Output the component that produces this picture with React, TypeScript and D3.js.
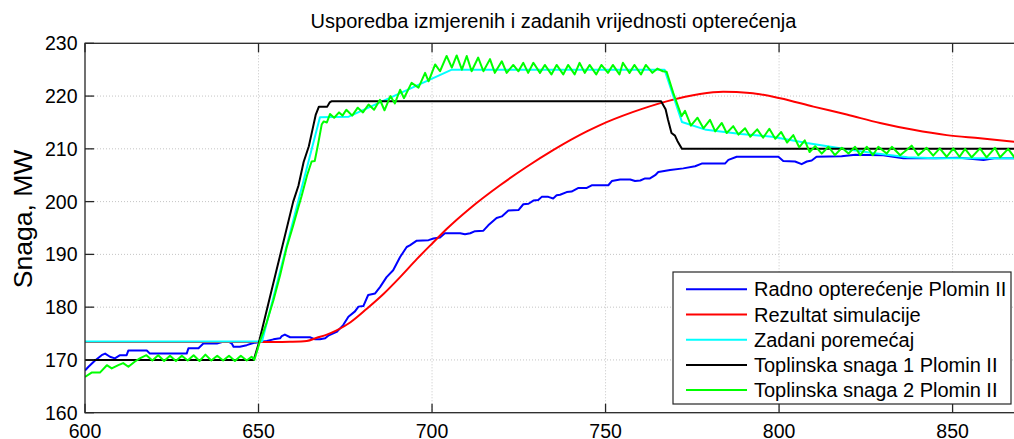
import * as d3 from "d3";

const radnoOpterecenje: [number, number][] = [
  [600, 168.0], [601, 168.7], [602.9, 169.9], [604.8, 170.9], [605.8, 171.2], [607.2, 170.6],
  [608.6, 170.3], [610.1, 170.9], [612, 170.9], [612.5, 171.8], [617.8, 171.8], [618.7, 171.2],
  [629.3, 171.2], [629.8, 172.2], [632.7, 172.2], [634.1, 173.1], [638, 173.1], [639.5, 173.4],
  [641.5, 173.4], [642.3, 173.1], [642.8, 172.5], [644.6, 172.5], [646.6, 172.8], [648.5, 173.2],
  [650.4, 173.4], [652.4, 173.6], [654.3, 173.9], [656.2, 174.1], [656.7, 174.5], [657.6, 174.8],
  [659.1, 174.3], [664.8, 174.3], [666.3, 173.9], [667.7, 173.9], [669.2, 174.1], [670.1, 174.6],
  [672.5, 175.3], [674.4, 176.6], [675.9, 178.2], [677.8, 179.2], [678.8, 180.1], [680.2, 180.2],
  [681.6, 182.3], [683.6, 182.6], [685, 183.8], [686.9, 185.7], [688.8, 187.0], [690.8, 189.5],
  [692.7, 191.4], [693.6, 191.7], [695.6, 192.6], [699, 192.7], [700.4, 193.0], [702.3, 193.2],
  [703.7, 194.0], [708.1, 194.0], [709.5, 193.8], [711, 194.0], [712.4, 194.4], [714.8, 194.5],
  [716.2, 195.5], [718.6, 196.9], [720.1, 197.2], [722, 198.3], [724.9, 198.4], [726.3, 199.5],
  [727.8, 199.6], [729.2, 200.2], [730.6, 200.3], [731.6, 200.9], [733.5, 200.9], [734.9, 200.6],
  [735.9, 201.2], [736.9, 201.3], [738.8, 201.8], [740.2, 201.9], [742.2, 202.6], [744.6, 202.6],
  [746, 203.1], [750.8, 203.1], [751.8, 203.9], [754.2, 204.2], [757.1, 204.2], [758.5, 203.9],
  [760, 204.0], [761.4, 204.4], [762.8, 204.4], [764.3, 205.0], [765.2, 205.6], [768.6, 206.0],
  [772.4, 206.3], [775.8, 206.7], [777.7, 207.2], [784.4, 207.2], [785.4, 207.9], [787.8, 208.5],
  [799.8, 208.5], [801.2, 207.7], [804.6, 207.6], [806.5, 207.1], [808, 207.6], [809.4, 207.8],
  [810.8, 208.5], [818, 208.6], [822, 208.9], [830, 208.8], [835.8, 208.2], [845, 208.2],
  [852, 208.3], [858.9, 207.9], [862, 208.2], [870, 208.2],
];

const rezultatSimulacije: [number, number][] = [
  [600, 173.4], [655, 173.4], [659, 173.45], [663.9, 173.6], [666.8, 174.2], [669.7, 174.8],
  [672.5, 175.6], [676.4, 177.1], [681.2, 179.7], [686, 182.5], [690.8, 185.7], [695.6, 189.1],
  [700.4, 192.3], [704.2, 194.8], [710.9, 198.7], [719.6, 203.1], [727.3, 206.6], [735, 209.8],
  [744.6, 213.3], [748.4, 214.5], [758, 217.0], [767.6, 219.0], [777.2, 220.4], [783.9, 220.8],
  [791.6, 220.6], [800.3, 219.6], [809.9, 218], [819.5, 216.5], [829.1, 214.9], [838.7, 213.6],
  [848.3, 212.6], [857.9, 212], [870, 211.2],
];

const zadaniPoremecaj: [number, number][] = [
  [600, 173.5], [651, 173.5], [667.7, 216.0], [676, 216.1], [705.7, 225], [767, 225],
  [772, 215.1], [779, 213.6], [789, 212.8], [798, 212.3], [808, 211.1], [817.6, 210.1],
  [827, 209.2], [837, 208.4], [845, 208.2], [870, 208.2],
];

const toplinska1: [number, number][] = [
  [600, 170], [648.6, 170], [650, 173], [655, 186.5], [660, 200], [661.5, 203], [663, 207.5],
  [664.5, 210.5], [665.5, 213.5], [666.5, 216.5], [667.4, 218], [669.8, 218], [670.5, 218.8],
  [671, 219], [766, 219], [767.3, 217.5], [768, 215.5], [769, 213], [770, 212.5], [770.7, 211.5],
  [772, 210], [870, 210],
];

const toplinska2: [number, number][] = [
  [600, 166.8], [601.9, 167.6], [604.3, 167.6], [606.3, 169.0], [607.7, 168.4], [609.6, 169.0],
  [611, 169.4], [612.5, 168.7], [614.4, 169.7], [615.8, 170.3], [617.7, 170.9], [619.4, 169.9],
  [621.1, 170.9], [622.8, 169.8], [624.5, 170.8], [626.2, 169.8], [627.9, 170.8], [629.6, 169.9],
  [631.3, 170.9], [633, 169.8], [634.7, 171.0], [636.4, 169.9], [638.1, 170.8], [639.8, 169.9],
  [641.5, 170.8], [643.2, 169.8], [644.9, 170.8], [646.6, 169.9], [648, 170.6], [648.8, 170.0],
  [650.4, 173.5], [652.3, 177], [654.3, 181.3], [656.2, 186], [658.1, 191.3], [660, 195.5],
  [661.5, 199], [662.4, 201], [664, 205], [665.3, 207.6], [666.2, 207.7], [667.2, 211],
  [668.2, 214.6], [668.8, 215.2], [669.7, 215.0], [670.6, 216.6], [671.8, 215.9], [673.2, 216.9],
  [674.2, 216.3], [675.3, 217.4], [677, 216.3], [678.6, 217.8], [680.1, 216.9], [681.7, 218.4],
  [683.3, 217.4], [685, 219.3], [686.3, 217.3], [688, 220.0], [689.3, 218.6], [690.8, 221.2],
  [691.9, 219.6], [694.1, 222.5], [696.1, 221.6], [698, 224.4], [699, 222.8], [700.9, 226],
  [702.3, 224.7], [704.2, 227.6], [705.7, 225.4], [707.1, 227.7], [708.6, 225], [710, 227.6],
  [711.4, 224.7], [713.3, 227.3], [714.8, 224.7], [716.7, 227], [718.1, 224.4], [720.1, 226.6],
  [721.5, 224.4], [723.4, 225.9], [724.9, 224.7], [726.3, 226.3], [727.7, 224.4], [729.2, 226.3],
  [731.1, 224.4], [732.5, 225.9], [734.4, 224.1], [735.9, 225.9], [737.8, 224.1], [739.2, 225.9],
  [741.1, 224.1], [742.5, 226.3], [744, 224.4], [745.4, 225.9], [747.3, 224.1], [748.8, 225.9],
  [750.7, 224.4], [752.1, 225.9], [754, 224.1], [755, 226.3], [756.9, 224.4], [758.3, 225.9],
  [760.2, 224.1], [761.6, 225.9], [763.5, 224.4], [764.9, 225.2], [766.5, 224.7], [767.6, 224.6],
  [769.5, 220.6], [771.9, 216.2], [772.9, 217.2], [774.6, 214.4], [776.5, 215.9], [778.2, 213.9],
  [780.1, 215.5], [781.6, 213.3], [783.5, 214.9], [784.9, 213.0], [786.8, 214.3], [788.3, 212.7],
  [790.2, 213.9], [791.7, 212.3], [793.7, 213.7], [795.4, 212.1], [797.2, 213.8], [798.9, 211.9],
  [800.6, 213.2], [802.3, 211.2], [804.1, 212.6], [805.8, 210.3], [807.4, 211.6], [808.8, 209.4],
  [810.4, 210.5], [812.3, 209.1], [814.2, 210.4], [816.1, 208.8], [818.1, 210.2], [820, 209.1],
  [821.9, 210.4], [823.4, 208.8], [825.3, 210.4], [827, 208.8], [828.6, 210.4], [831, 209.1],
  [832.5, 210.4], [834.9, 208.8], [838.2, 210.6], [840.1, 208.8], [842.5, 210.2], [844.4, 208.7],
  [846.3, 210.1], [848.3, 208.5], [850.2, 210.1], [852, 208.5], [853.6, 210.0], [855.5, 208.4],
  [857.9, 210.1], [859.8, 208.4], [862.2, 210.2], [863.7, 208.4], [866, 210.0], [867.8, 208.4],
  [870, 209.8],
];

const seriesNames = [
  "Radno opterećenje Plomin II",
  "Rezultat simulacije",
  "Zadani poremećaj",
  "Toplinska snaga 1 Plomin II",
  "Toplinska snaga 2 Plomin II",
];
const seriesColors = ["#0000ff", "#ff0000", "#00ffff", "#000000", "#00ff00"];
const seriesData = [radnoOpterecenje, rezultatSimulacije, zadaniPoremecaj, toplinska1, toplinska2];

const xTicks = [600, 650, 700, 750, 800, 850];
const yTicks = [160, 170, 180, 190, 200, 210, 220, 230];

const W = 1014;
const H = 439;
const FONT = "'Liberation Sans', Arial, sans-serif";

export default function App() {
  const x = d3.scaleLinear().domain([600, 870]).range([85, 1022]);
  const y = d3.scaleLinear().domain([160, 230]).range([412.7, 43.3]);
  const [x0, x1] = x.range();
  const [yb, yt] = y.range();

  const line = d3
    .line<[number, number]>()
    .x((d) => x(d[0]))
    .y((d) => y(d[1]));
  const smooth = d3
    .line<[number, number]>()
    .x((d) => x(d[0]))
    .y((d) => y(d[1]))
    .curve(d3.curveMonotoneX);

  const tickLen = 9;

  return (
    <svg
      width={W}
      height={H}
      style={{ position: "fixed", left: 0, top: 0, background: "#fff" }}
      fontFamily={FONT}
    >
      <defs>
        <clipPath id="plot">
          <rect x={x0} y={yt} width={x1 - x0} height={yb - yt} />
        </clipPath>
      </defs>
      <rect x={x0} y={yt} width={x1 - x0} height={yb - yt} fill="#fff" />

      {/* grid */}
      <g stroke="#c4c4c4" strokeWidth={1} strokeDasharray="1,2">
        {xTicks.slice(1).map((t) => (
          <line key={t} x1={x(t)} x2={x(t)} y1={yt} y2={yb} />
        ))}
        {yTicks.slice(1, -1).map((t) => (
          <line key={t} x1={x0} x2={x1} y1={y(t)} y2={y(t)} />
        ))}
      </g>

      {/* data */}
      <g clipPath="url(#plot)" fill="none" strokeWidth={2} strokeLinejoin="round">
        {seriesData.map((d, i) => (
          <path
            key={i}
            d={(i === 1 ? smooth(d) : line(d)) ?? ""}
            stroke={seriesColors[i]}
          />
        ))}
      </g>

      {/* box + ticks */}
      <g stroke="#262626" strokeWidth={1.3} fill="none">
        <rect x={x0} y={yt} width={x1 - x0} height={yb - yt} />
        {xTicks.map((t) => (
          <g key={t}>
            <line x1={x(t)} x2={x(t)} y1={yb} y2={yb - tickLen} />
            <line x1={x(t)} x2={x(t)} y1={yt} y2={yt + tickLen} />
          </g>
        ))}
        {yTicks.map((t) => (
          <line key={t} x1={x0} x2={x0 + tickLen} y1={y(t)} y2={y(t)} />
        ))}
      </g>

      {/* tick labels */}
      <g fontSize={19.5} fill="#000">
        {xTicks.map((t) => (
          <text key={t} x={x(t)} y={437.5} textAnchor="middle">
            {t}
          </text>
        ))}
        {yTicks.map((t) => (
          <text key={t} x={77.5} y={y(t) + 7} textAnchor="end">
            {t}
          </text>
        ))}
      </g>

      <text x={(x0 + x1) / 2} y={28} textAnchor="middle" fontSize={20} fill="#000">
        Usporedba izmjerenih i zadanih vrijednosti opterećenja
      </text>
      <text
        transform="translate(32, 219) rotate(-90)"
        textAnchor="middle"
        fontSize={26.5}
        fill="#000"
      >
        Snaga, MW
      </text>

      {/* legend */}
      <g>
        <rect x={673} y={272} width={338} height={132} fill="#fff" stroke="#262626" strokeWidth={1.2} />
        {seriesNames.map((name, i) => {
          const cy = 289.3 + i * 25.2;
          return (
            <g key={name}>
              <line x1={686} x2={747} y1={cy} y2={cy} stroke={seriesColors[i]} strokeWidth={2} />
              <text x={754} y={cy + 7} fontSize={20} fill="#000">
                {name}
              </text>
            </g>
          );
        })}
      </g>
    </svg>
  );
}
